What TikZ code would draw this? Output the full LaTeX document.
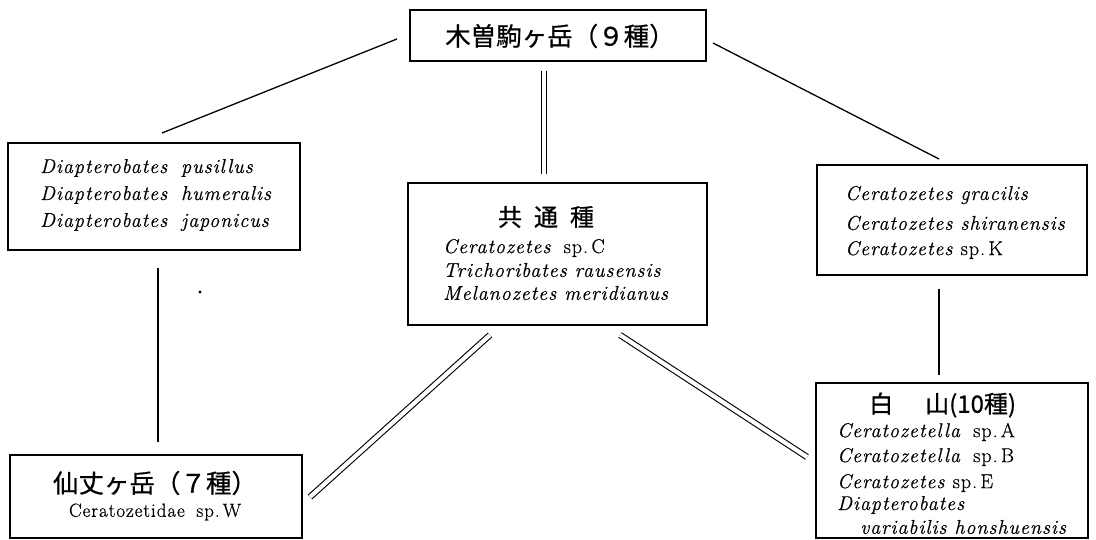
\documentclass[tikz,border=0pt]{standalone}
\usepackage{fontspec}
\setmainfont{Latin Modern Roman}
\newfontfamily\jp[FakeBold=0.7]{Noto Sans CJK JP}
\newfontfamily\lsp[LetterSpace=5,FakeBold=0.6]{Latin Modern Roman}
\begin{document}
\begin{tikzpicture}[x=1pt,y=-1pt,
  box/.style={draw, line width=1.3pt, inner sep=0pt},
  conn/.style={line width=1.3pt},
  dconn/.style={line width=1.1pt, double, double distance=4.2pt},
  ttl/.style={inner sep=0pt, font=\jp\fontsize{24pt}{26pt}\selectfont},
  bigttl/.style={inner sep=0pt, font=\jp\fontsize{25.5pt}{27pt}\selectfont},
  spc/.style={anchor=west, inner sep=0pt, font=\lsp\fontsize{20pt}{22pt}\selectfont},
]
\useasboundingbox (0,0) rectangle (1096,540);
% boxes
\node[box, minimum width=296pt, minimum height=51pt] (kiso) at (558,35.5) {};
\node[box, minimum width=292pt, minimum height=107pt] (only1) at (154,196.5) {};
\node[box, minimum width=299pt, minimum height=142pt] (common) at (557.5,254) {};
\node[box, minimum width=270pt, minimum height=110pt] (only2) at (952,220) {};
\node[box, minimum width=292pt, minimum height=83pt] (senjo) at (156,496.5) {};
\node[box, minimum width=272pt, minimum height=155pt] (hakusan) at (952,460.5) {};
% titles
\node[bigttl] (t1) at (560,36) {木曽駒ヶ岳（９種）};
\node[ttl] (t2) at (546,217) {共\hspace{12pt}通\hspace{12pt}種};
\node[bigttl] (t3) at (155,483) {仙丈ヶ岳（７種）};
\node[ttl, anchor=west] (t4) at (869,405) {白\hspace{32pt}山(10種)};
% left box
\node[spc] (a1) at (40,168) {\itshape Diapterobates\hspace{6pt} pusillus};
\node[spc] (a2) at (40,195) {\itshape Diapterobates\hspace{6pt} humeralis};
\node[spc] (a3) at (40,222) {\itshape Diapterobates\hspace{6pt} japonicus};
% common box
\node[spc] (c1) at (443,248) {\textit{Ceratozetes}\hspace{5pt} sp.\,C};
\node[spc] (c2) at (443,270) {\itshape Trichoribates rausensis};
\node[spc] (c3) at (443,293) {\itshape Melanozetes meridianus};
% right box
\node[spc] (b1) at (845,195) {\itshape Ceratozetes gracilis};
\node[spc] (b2) at (845,223) {\itshape Ceratozetes shiranensis};
\node[spc] (b3) at (845,250) {\textit{Ceratozetes} sp.\,K};
% senjo
\node[inner sep=0pt, font=\lsp\fontsize{19pt}{21pt}\selectfont] (s1) at (155,512) {Ceratozetidae\hspace{5pt} sp.\,W};
% hakusan
\node[spc] (h1) at (837,432) {\textit{Ceratozetella}\hspace{5pt} sp.\,A};
\node[spc] (h2) at (837,457) {\textit{Ceratozetella}\hspace{5pt} sp.\,B};
\node[spc] (h3) at (837,483) {\textit{Ceratozetes} sp.\,E};
\node[spc] (h4) at (837,505) {\itshape Diapterobates};
\node[spc] (h5) at (860,527) {\itshape variabilis honshuensis};
% connector ends
\coordinate (k1) at (397,39);
\coordinate (o1) at (162,133);
\coordinate (k2) at (713,43);
\coordinate (o2) at (939,159);
\coordinate (k3) at (544,71);
\coordinate (c3t) at (544,174);
\coordinate (o1b) at (158,268);
\coordinate (s1t) at (158,442);
\coordinate (o2b) at (939,289);
\coordinate (h1t) at (939,375);
\coordinate (cl) at (490,335);
\coordinate (sr) at (310,497);
\coordinate (cr) at (620,335);
\coordinate (hl) at (807,457);
\draw[conn] (k1) -- (o1);
\draw[conn] (k2) -- (o2);
\draw[dconn] (k3) -- (c3t);
\draw[conn] (o1b) -- (s1t);
\draw[conn] (o2b) -- (h1t);
\draw[dconn] (cl) -- (sr);
\draw[dconn] (cr) -- (hl);
\fill (200,292) circle (1.6);
\end{tikzpicture}
\end{document}
